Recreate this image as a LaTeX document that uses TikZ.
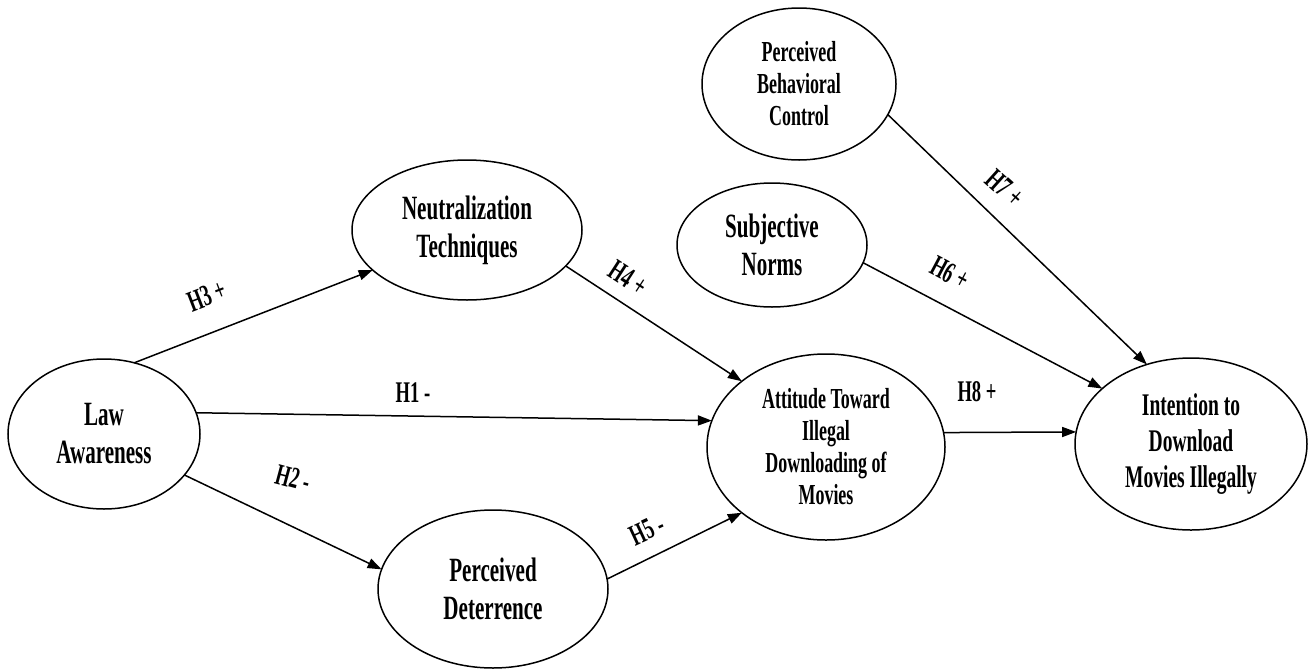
\documentclass[tikz,border=0pt]{standalone}
\usepackage{fontspec}
\setmainfont{Liberation Serif}[FakeStretch=0.62]
\usetikzlibrary{shapes.geometric,arrows.meta}

\tikzset{
  construct/.style={draw, ellipse, line width=1.5pt, inner sep=0pt, outer sep=0pt,
    align=center, font=\bfseries\fontsize{34}{38}\selectfont},
  smalltext/.style={font=\bfseries\fontsize{29}{32}\selectfont},
  midtext/.style={font=\bfseries\fontsize{31.5}{36}\selectfont},
  link/.style={line width=1.5pt, -{Triangle[length=14pt,width=10pt]}},
  hyp/.style={font=\bfseries\fontsize{30}{32}\selectfont, inner sep=0pt}
}

\begin{document}
\begin{tikzpicture}[x=1pt,y=-1pt]
\useasboundingbox (0,0) rectangle (1315,670);

% constructs
\node[construct, minimum width=192pt, minimum height=150pt] (law) at (104,434) {Law\\Awareness};
\node[construct, minimum width=230pt, minimum height=140pt] (neu) at (467,230) {Neutralization\\Techniques};
\node[construct, minimum width=230pt, minimum height=158pt] (det) at (493,589) {Perceived\\Deterrence};
\node[construct, smalltext, minimum width=238pt, minimum height=186pt] (att) at (826,447)
  {Attitude Toward\\Illegal\\Downloading of\\Movies};
\node[construct, midtext, minimum width=232pt, minimum height=172pt] (int) at (1191,444)
  {Intention to\\Download\\Movies Illegally};
\node[construct, smalltext, minimum width=194pt, minimum height=152pt] (pbc) at (799,84)
  {Perceived\\Behavioral\\Control};
\node[construct, minimum width=190pt, minimum height=124pt] (sn) at (772,245) {Subjective\\Norms};

% hypothesised paths
\draw[link] (law.67) -- (neu.203);
\draw[link] (law.13) -- (att.167);
\draw[link] (law.-27) -- (det.170);
\draw[link] (neu.-20) -- (att.142);
\draw[link] (det.5) -- (att.218);
\draw[link] (att.7) -- (int.174);
\draw[link] (sn.-11) -- (int.148);
\draw[link] (pbc.-19) -- (int.119);

% path labels
\node[hyp, rotate=21] (h3) at (207,296) {H3 +};
\node[hyp] (h1) at (413,393) {H1 -};
\node[hyp, rotate=-15] (h2) at (293,478) {H2 -};
\node[hyp, rotate=-33] (h4) at (628,278) {H4 +};
\node[hyp, rotate=25] (h5) at (647,530) {H5 -};
\node[hyp, rotate=-28] (h6) at (950,273) {H6 +};
\node[hyp, rotate=-42] (h7) at (1005,188) {H7 +};
\node[hyp] (h8) at (977,392) {H8 +};
\end{tikzpicture}
\end{document}
